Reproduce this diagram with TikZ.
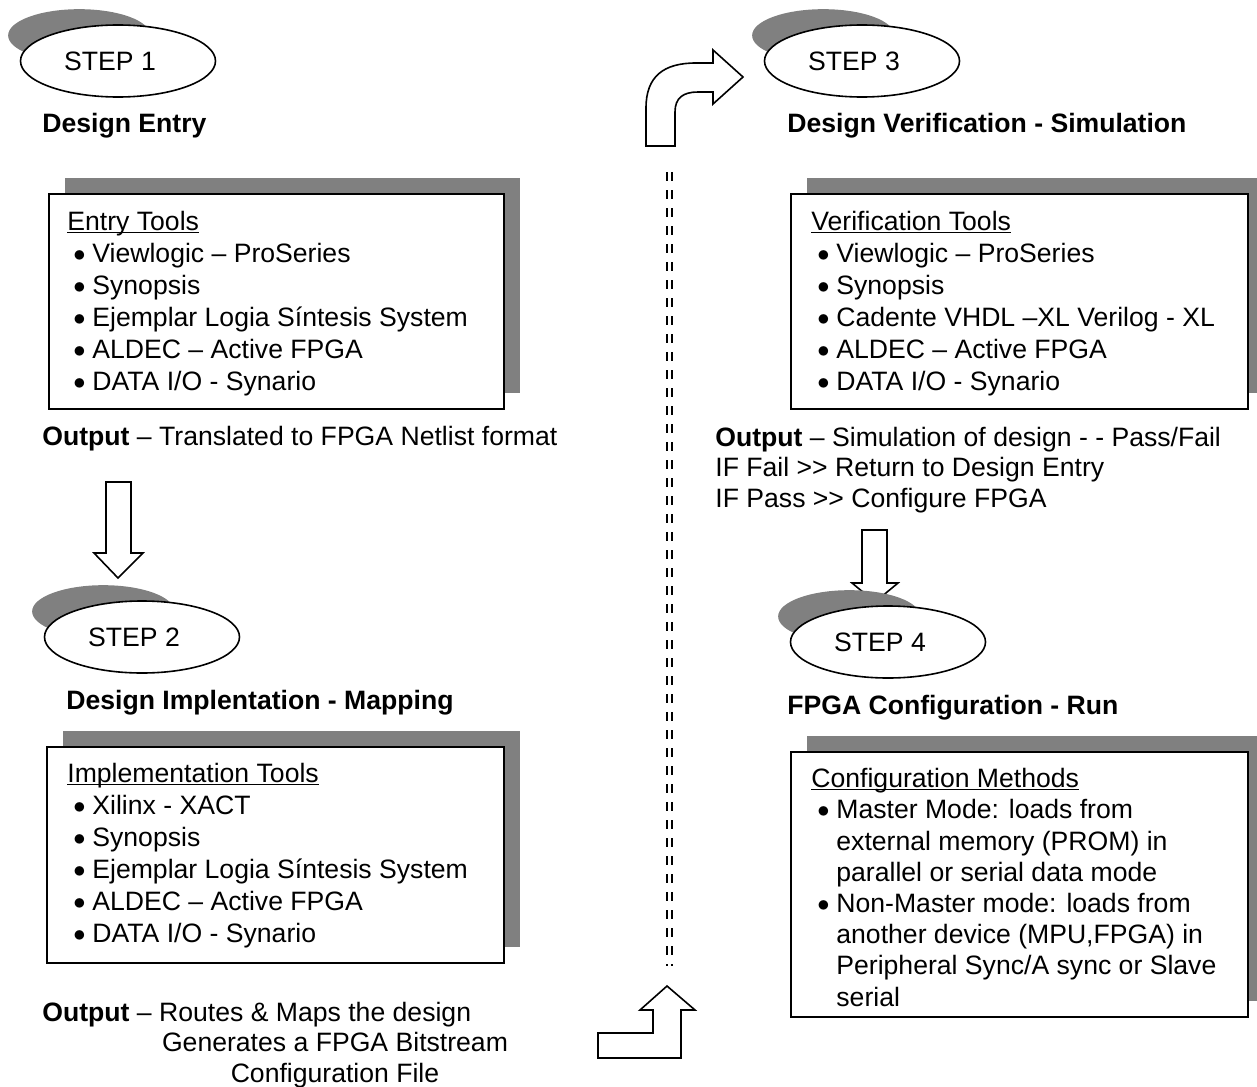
\documentclass[tikz,border=0pt]{standalone}
\usepackage{fontspec}
\setmainfont{Liberation Sans}
\usetikzlibrary{positioning,shadows,shapes.geometric}
\definecolor{shadegray}{RGB}{128,128,128}
\newcommand{\bul}{\hspace*{3pt}\makebox[9.5pt][l]{\raisebox{0.5pt}{\scalebox{0.85}{$\bullet$}}}}
\newcommand{\cont}{\hspace*{12.5pt}}
\newcommand{\uln}[1]{\setbox0\hbox{#1}\rlap{\rule[-1.4pt]{\wd0}{0.6pt}}\box0}

\begin{document}
\begin{tikzpicture}[x=0.5pt,y=-0.5pt,
  every node/.style={font=\fontsize{13.3}{16}\selectfont,inner sep=0pt},
  stepnode/.style={ellipse,draw,line width=0.8pt,fill=white,minimum width=97.5pt,minimum height=36pt,
    general shadow={fill=shadegray,shadow xshift=-26.5pt,shadow yshift=17.5pt,shadow scale=0.73}},
  toolbox/.style={draw,line width=1pt,fill=white,anchor=north west,
    general shadow={fill=shadegray,shadow xshift=8pt,shadow yshift=8pt}},
  heading/.style={anchor=base west,font=\fontsize{13.3}{16}\selectfont\bfseries},
  toollist/.style={align=left},
  blockarrow/.style={draw,line width=0.8pt,fill=white,line join=miter}
]
\useasboundingbox (0,0) rectangle (1257,1086);

\node[stepnode] (step1) at (118,61) {\hspace*{-8pt}STEP 1};
\node[heading] (entryhead) at (42,133) {Design Entry};
\node[toolbox,minimum width=227.5pt,minimum height=107.5pt] (entrybox) at (48,193) {};
\node[toollist,below right=9pt and 9.5pt of entrybox.north west] (entrylist)
  {\uln{Entry Tools}\\
   \bul Viewlogic – ProSeries\\
   \bul Synopsis\\
   \bul Ejemplar Logia Síntesis System\\
   \bul ALDEC – Active FPGA\\
   \bul DATA I/O - Synario};
\node[anchor=base west] (entryout) at (42,445) {\textbf{Output} – Translated to FPGA Netlist format};

\draw[blockarrow] (106,482) -- (131,482) -- (131,553) -- (143,553) -- (118,578)
  -- (94,553) -- (106,553) -- cycle;

\node[stepnode] (step2) at (142,637) {\hspace*{-8pt}STEP 2};
\node[heading] (implhead) at (66,709) {Design Implentation - Mapping};
\node[toolbox,minimum width=228.5pt,minimum height=108pt] (implbox) at (46,746) {};
\node[toollist,below right=8.5pt and 10.5pt of implbox.north west] (impllist)
  {\uln{Implementation Tools}\\
   \bul Xilinx - XACT\\
   \bul Synopsis\\
   \bul Ejemplar Logia Síntesis System\\
   \bul ALDEC – Active FPGA\\
   \bul DATA I/O - Synario};
\node[anchor=base west] (implout) at (42,1021) {\textbf{Output} – Routes \& Maps the design};
\node[align=center,anchor=north,font=\fontsize{13.3}{15.2}\selectfont] (implfile) at (335,1032)
  {Generates a FPGA Bitstream\\Configuration File};

\draw[blockarrow] (598,1058) -- (598,1033) -- (653,1033) -- (653,1010) -- (640,1010)
  -- (667,986) -- (695,1010) -- (681,1010) -- (681,1058) -- cycle;

\coordinate (sepa) at (669.5,172);
\coordinate (sepb) at (669.5,966);
\draw[line width=1pt,double distance=1.5pt,dash pattern=on 4.5pt off 4.5pt] (sepa) -- (sepb);

\draw[blockarrow] (646,146) -- (646,108) .. controls (646,76) and (664,63) .. (696,63)
  -- (713,63) -- (713,50) -- (743,77) -- (713,104) -- (713,92) -- (698,92)
  .. controls (683,92) and (675,98) .. (675,112) -- (675,146) -- cycle;

\node[stepnode] (step3) at (862,61) {\hspace*{-8pt}STEP 3};
\node[heading] (verihead) at (787,133) {Design Verification - Simulation};
\node[toolbox,minimum width=228.5pt,minimum height=107.5pt] (veribox) at (790,193) {};
\node[toollist,below right=9pt and 10.5pt of veribox.north west] (verilist)
  {\uln{Verification Tools}\\
   \bul Viewlogic – ProSeries\\
   \bul Synopsis\\
   \bul Cadente VHDL –XL Verilog - XL\\
   \bul ALDEC – Active FPGA\\
   \bul DATA I/O - Synario};
\node[toollist,anchor=north west,font=\fontsize{13.3}{15.3}\selectfont] (veriout) at (715,426.5)
  {\textbf{Output} – Simulation of design - - Pass/Fail\\
   IF Fail >{}> Return to Design Entry\\
   IF Pass >{}> Configure FPGA};

\draw[blockarrow] (862,530) -- (887,530) -- (887,583) -- (898,583) -- (875,602)
  -- (852,583) -- (862,583) -- cycle;

\node[stepnode] (step4) at (888,642) {\hspace*{-8pt}STEP 4};
\node[heading] (confhead) at (787,714) {FPGA Configuration - Run};
\node[toolbox,minimum width=228.5pt,minimum height=132.5pt] (confbox) at (790,751) {};
\node[toollist,below right=8.5pt and 10.5pt of confbox.north west,font=\fontsize{13.3}{15.6}\selectfont] (conflist)
  {\uln{Configuration Methods}\\
   \bul Master Mode: loads from\\
   \cont external memory (PROM) in\\
   \cont parallel or serial data mode\\
   \bul Non-Master mode: loads from\\
   \cont another device (MPU,FPGA) in\\
   \cont Peripheral Sync/A sync or Slave\\
   \cont serial};
\end{tikzpicture}
\end{document}
